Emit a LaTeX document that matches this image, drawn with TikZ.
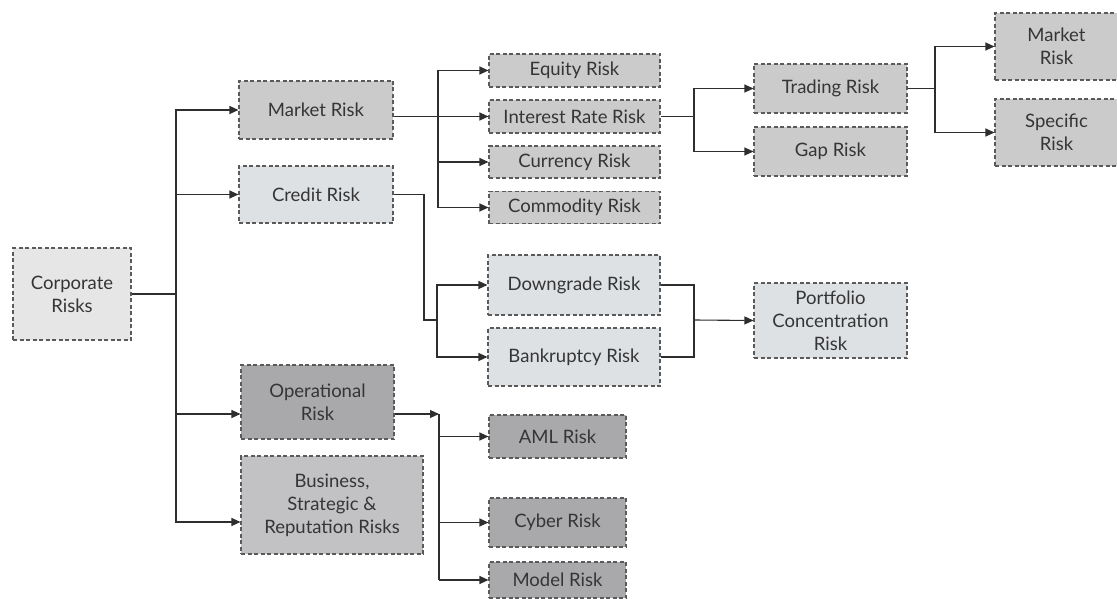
\documentclass[tikz,border=0pt]{standalone}
\usepackage{fontspec}
\setmainfont{Lato}
\usetikzlibrary{arrows.meta}
\definecolor{txt}{HTML}{353535}
\definecolor{edge}{HTML}{5A5A5A}
\definecolor{wire}{HTML}{2E2E2E}
\definecolor{fcorp}{HTML}{E6E6E6}
\definecolor{fmid}{HTML}{CBCBCB}
\definecolor{fcred}{HTML}{DEE1E4}
\definecolor{fdark}{HTML}{A9A9AB}
\definecolor{fbus}{HTML}{C2C2C5}
\tikzset{
  riskbox/.style={draw=edge, line width=1.1pt, dash pattern=on 4pt off 2.5pt,
    text=txt, align=center, inner sep=0pt, anchor=center,
    font=\fontsize{18.5}{23}\selectfont},
  wirepath/.style={draw=wire, line width=1.1pt},
  arr/.style={wirepath, -{Triangle[length=9pt,width=8pt]}}
}
\begin{document}
\begin{tikzpicture}[x=1pt,y=-1pt]
\useasboundingbox (0,0) rectangle (1117,599);

% level 0
\node[riskbox, fill=fcorp, minimum width=118pt, minimum height=92pt] (corp) at (72,294) {Corporate\\Risks};

% level 1
\node[riskbox, fill=fmid, minimum width=154pt, minimum height=58pt] (market) at (316,110) {Market Risk};
\node[riskbox, fill=fcred, minimum width=154pt, minimum height=57pt] (credit) at (316,194.5) {Credit Risk};
\node[riskbox, fill=fdark, minimum width=153pt, minimum height=74pt] (oper) at (317.5,402) {Operational\\Risk};
\node[riskbox, fill=fbus, minimum width=182pt, minimum height=98pt] (bus) at (332,505) {Business,\\Strategic \&\\Reputation Risks};

% market risk branch
\node[riskbox, fill=fmid, minimum width=171pt, minimum height=33pt] (equity) at (574.5,70.5) {Equity Risk};
\node[riskbox, fill=fmid, minimum width=171pt, minimum height=33pt] (interest) at (574.5,116.5) {Interest Rate Risk};
\node[riskbox, fill=fmid, minimum width=171pt, minimum height=32pt] (currency) at (574.5,162) {Currency Risk};
\node[riskbox, fill=fmid, minimum width=171pt, minimum height=32pt] (commodity) at (574.5,207.5) {Commodity Risk};
\node[riskbox, fill=fmid, minimum width=153pt, minimum height=49pt] (trading) at (830.5,88.5) {Trading Risk};
\node[riskbox, fill=fmid, minimum width=153pt, minimum height=49pt] (gap) at (830.5,151.5) {Gap Risk};
\node[riskbox, fill=fmid, minimum width=130pt, minimum height=67pt] (mktsub) at (1060,46.5) {\hspace*{-7pt}Market\\\hspace*{-7pt}Risk};
\node[riskbox, fill=fmid, minimum width=130pt, minimum height=67pt] (spec) at (1060,132.5) {\hspace*{-7pt}Specific\\\hspace*{-7pt}Risk};

% credit risk branch
\node[riskbox, fill=fcred, minimum width=172pt, minimum height=60pt] (down) at (574,285) {Downgrade Risk};
\node[riskbox, fill=fcred, minimum width=172pt, minimum height=58pt] (bank) at (574,357) {Bankruptcy Risk};
\node[riskbox, fill=fcred, minimum width=153pt, minimum height=75pt] (port) at (830.5,320.5) {Portfolio\\Concentration\\Risk};

% operational risk branch
\node[riskbox, fill=fdark, minimum width=137pt, minimum height=43pt] (aml) at (557.5,436.5) {AML Risk};
\node[riskbox, fill=fdark, minimum width=137pt, minimum height=49pt] (cyber) at (557.5,522.5) {Cyber Risk};
\node[riskbox, fill=fdark, minimum width=137pt, minimum height=36pt] (model) at (557.5,580) {Model Risk};

% trunk from corporate risks
\coordinate (trunk) at (176,294);
\draw[wirepath] (corp.east) -- (trunk);
\draw[arr] (trunk) |- (market.west);
\draw[arr] (trunk) |- (credit.west);
\draw[arr] (trunk) |- ([yshift=-12pt]oper.west);
\draw[arr] (trunk) |- ([yshift=-17pt]bus.west);

% market risk split
\coordinate (msplit) at (438,116.5);
\draw[wirepath] (market.east |- msplit) -- (msplit);
\draw[arr] (msplit) |- (equity.west);
\draw[arr] (msplit) -- (interest.west);
\draw[arr] (msplit) |- (currency.west);
\draw[arr] (msplit) |- (commodity.west);

% interest rate risk split
\coordinate (isplit) at (694,116.5);
\draw[wirepath] (interest.east) -- (isplit);
\draw[arr] (isplit) |- (trading.west);
\draw[arr] (isplit) |- (gap.west);

% trading risk split
\coordinate (tsplit) at (935,88.5);
\draw[wirepath] (trading.east) -- (tsplit);
\draw[arr] (tsplit) |- (mktsub.west);
\draw[arr] (tsplit) |- (spec.west);

% credit risk path
\coordinate (cturn) at (424,320);
\coordinate (csplit) at (437,320);
\draw[wirepath] (credit.east) -| (cturn) -- (csplit);
\draw[arr] (csplit) |- (down.west);
\draw[arr] (csplit) |- (bank.west);

% merge into portfolio concentration risk
\coordinate (pjoin) at (694,320);
\draw[wirepath] (down.east) -| (pjoin) |- (bank.east);
\draw[arr] (pjoin) -- (port.west);

% operational risk split
\coordinate (osplit) at (439,414);
\coordinate (obottom) at (439,580);
\draw[arr] ([yshift=-12pt]oper.east) -- (osplit);
\draw[wirepath] (osplit) -- (obottom);
\draw[arr] (osplit |- aml.west) -- (aml.west);
\draw[arr] (osplit |- cyber.west) -- (cyber.west);
\draw[arr] (obottom) -- (model.west);
\end{tikzpicture}
\end{document}
